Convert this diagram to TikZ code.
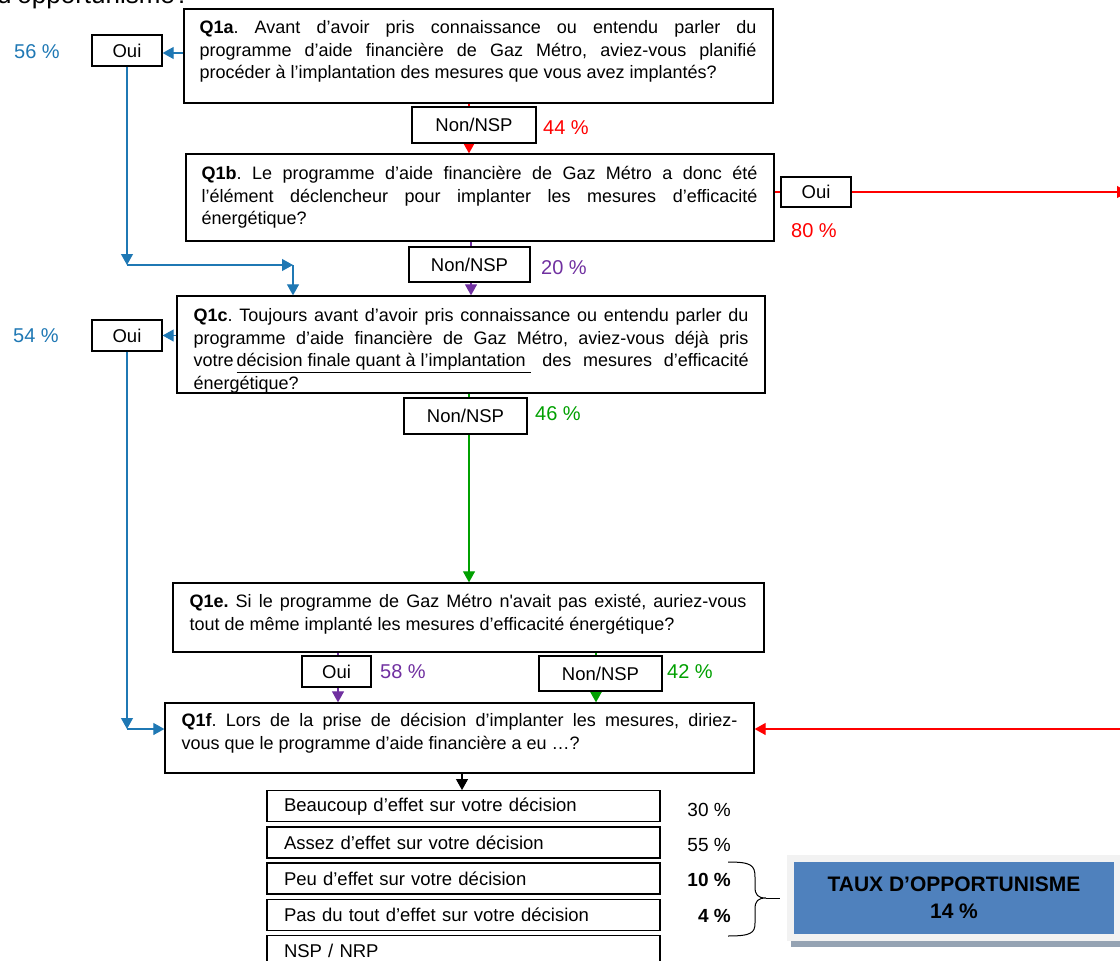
\documentclass[tikz,border=0pt]{standalone}
\usepackage{fontspec}
\setmainfont{Liberation Sans}
\usepackage{xcolor}
\usetikzlibrary{arrows.meta, backgrounds}

\definecolor{qblue}{RGB}{31,120,180}
\definecolor{qred}{RGB}{255,0,0}
\definecolor{qpurple}{RGB}{112,48,160}
\definecolor{qgreen}{RGB}{0,160,0}
\definecolor{taux}{RGB}{79,129,189}
\definecolor{tauxshadow}{RGB}{149,163,179}
\definecolor{tauxback}{RGB}{242,242,242}

\frenchspacing

\begin{document}
\begin{tikzpicture}[x=1pt, y=-1pt,
    qbox/.style={draw, line width=1.3pt, inner sep=0pt},
    qtext/.style={anchor=north west, inner sep=0pt, align=justify, font=\fontsize{18}{22.5}\selectfont\frenchspacing},
    lbox/.style={draw, line width=1.3pt, fill=white, inner sep=0pt, font=\fontsize{18.5}{22}\selectfont},
    pct/.style={inner sep=0pt, font=\fontsize{20}{24}\selectfont},
    optbox/.style={draw, line width=1.3pt, minimum width=393pt, minimum height=31pt, inner xsep=17pt, inner ysep=0pt, text width=359pt, align=left, font=\fontsize{18.5}{21}\selectfont},
    optval/.style={anchor=east, inner sep=0pt, font=\fontsize{19}{22}\selectfont},
    flow/.style={line width=1.1pt, -{Triangle[length=11pt,width=12pt]}},
    link/.style={line width=1.1pt}]
        \useasboundingbox (0,0) rectangle (1120,961);
        %% title (cut by the top edge)
        \node[anchor=base west, inner sep=0pt, font=\fontsize{26}{30}\selectfont] (titre) at (-3,4) {d’opportunisme?};
        %% question boxes
        \node[qbox, minimum width=589pt, minimum height=94pt] (q1a) at (478.5,56) {};
        \node[qbox, minimum width=588pt, minimum height=87pt] (q1b) at (480,197.5) {};
        \node[qbox, minimum width=588pt, minimum height=97pt] (q1c) at (471,344.5) {};
        \node[qbox, minimum width=591pt, minimum height=69pt] (q1e) at (468.5,617.5) {};
        \node[qbox, minimum width=589pt, minimum height=70pt] (q1f) at (459.5,738) {};
        %% question texts
        \node[qtext, text width=557pt] (t1a) at ([xshift=16pt, yshift=-12pt]q1a.north west) {\textbf{Q1a}. Avant d’avoir pris connaissance ou entendu parler du\linebreak programme d’aide financière de Gaz Métro, aviez-vous planifié\linebreak procéder à l’implantation des mesures que vous avez implantés?};
        \node[qtext, text width=556pt] (t1b) at ([xshift=16pt, yshift=-13pt]q1b.north west) {\textbf{Q1b}. Le programme d’aide financière de Gaz Métro a donc été\linebreak l’élément déclencheur pour implanter les mesures d’efficacité\linebreak énergétique?};
        \node[qtext, text width=555pt] (t1c) at ([xshift=17pt, yshift=-13pt]q1c.north west) {\textbf{Q1c}. Toujours avant d’avoir pris connaissance ou entendu parler du\linebreak programme d’aide financière de Gaz Métro, aviez-vous déjà pris\linebreak votre\,\underline{décision finale quant à l’implantation\ } des mesures d’efficacité\linebreak énergétique?};
        \node[qtext, text width=557pt] (t1e) at ([xshift=17pt, yshift=-12pt]q1e.north west) {\textbf{Q1e.} Si le programme de Gaz Métro n\textquotesingle avait pas existé, auriez-vous\linebreak tout de même implanté les mesures d’efficacité énergétique?};
        \node[qtext, text width=556pt] (t1f) at ([xshift=17pt, yshift=-11pt]q1f.north west) {\textbf{Q1f}. Lors de la prise de décision d’implanter les mesures, diriez-\linebreak vous que le programme d’aide financière a eu …?};
        %% answer boxes
        \node[lbox, minimum width=70pt, minimum height=31pt] (oa) at (127,50.5) {Oui};
        \node[lbox, minimum width=124pt, minimum height=36pt] (na) at (474,125) {Non/NSP};
        \node[lbox, minimum width=70pt, minimum height=30pt] (ob) at (816,192) {Oui};
        \node[lbox, minimum width=121pt, minimum height=35pt] (nb) at (469.5,264.5) {Non/NSP};
        \node[lbox, minimum width=70pt, minimum height=31pt] (oc) at (127,335.5) {Oui};
        \node[lbox, minimum width=123pt, minimum height=36pt] (nc) at (465.5,416) {Non/NSP};
        \node[lbox, minimum width=69pt, minimum height=31pt] (oe) at (336.5,671.5) {Oui};
        \node[lbox, minimum width=123pt, minimum height=35pt] (ne) at (600.5,673.5) {Non/NSP};
        %% answer shares
        \node[pct, qblue] (p1a) at (37,52) {56 \%};
        \node[pct, qred] (p1an) at (566,127.5) {44 \%};
        \node[pct, qred] (p1bo) at (814,230.5) {80 \%};
        \node[pct, qpurple] (p1bn) at (564,267.5) {20 \%};
        \node[pct, qblue] (p1co) at (36,336) {54 \%};
        \node[pct, qgreen] (p1cn) at (558,414) {46 \%};
        \node[pct, qpurple] (p1eo) at (403,671.5) {58 \%};
        \node[pct, qgreen] (p1en) at (690,671.5) {42 \%};
        %% Q1f answers
        \foreach \opt/\val [count=\i] in {Beaucoup d’effet sur votre décision/30 \%, Assez d’effet sur votre décision/55 \%, Peu d’effet sur votre décision/\textbf{10 \%}, Pas du tout d’effet sur votre décision/\textbf{4 \%}, {NSP / NRP}/{}}
        {
            \node[optbox] (r\i) at (463.5,770+36.2*\i) {\opt};
            \node[optval] (v\i) at (731,774.8+35.2*\i) {\val};
        }
        %% brace and rate
        \coordinate (bt) at (728,862);
        \coordinate (bb) at (728,936);
        \coordinate (bm) at (766,898);
        \coordinate (bc) at (780,898);
        \draw[line width=1pt] (bt) .. controls (751,862) and (755,865) .. (755,877) -- (755,887) .. controls (755,895) and (758,898) .. (bm) .. controls (758,898) and (755,901) .. (755,909) -- (755,923) .. controls (755,933) and (751,936) .. (bb);
        \draw[line width=1pt] (bm) -- (bc);
        \fill[tauxback] (787,855) rectangle (1125,941);
        \fill[tauxshadow] (791,941) rectangle (1125,947);
        \node[fill=taux, minimum width=320pt, minimum height=72pt, inner sep=0pt, align=center, font=\bfseries\fontsize{21}{27}\selectfont] (taux) at (954,898) {TAUX D’OPPORTUNISME\\14 \%};
        %% edges behind the answer boxes
        \begin{scope}[on background layer]
            \draw[flow, qred] ([xshift=-5pt]na.center |- q1a.south) -- ([xshift=-5pt]na.center |- q1b.north);
            \draw[flow, qpurple] ([xshift=1.5pt]nb.center |- q1b.south) -- ([xshift=1.5pt]nb.center |- q1c.north);
            \draw[flow, qgreen] ([xshift=3.5pt]nc.center |- q1c.south) -- ([xshift=3.5pt]nc.center |- q1e.north);
            \draw[flow, qpurple] ([xshift=1.5pt]oe.center |- q1e.south) -- ([xshift=1.5pt]oe.center |- q1f.north);
            \draw[flow, qgreen] ([xshift=-4.5pt]ne.center |- q1e.south) -- ([xshift=-4.5pt]ne.center |- q1f.north);
        \end{scope}
        %% other edges
        \coordinate (ka) at (127,265);
        \coordinate (kb) at (293,265);
        \coordinate (kc) at (127,729);
        \coordinate (ra) at (1128,192);
        \coordinate (rb) at (1126,729);
        \draw[flow, qblue] ([yshift=-2.5pt]q1a.west |- oa.east) -- ([yshift=-2.5pt]oa.east);
        \draw[flow, qblue] (oa.south) -- (ka);
        \draw[flow, qblue] (ka) -- (kb);
        \draw[flow, qblue] (kb) -- (kb |- q1c.north);
        \draw[flow, qblue] (q1c.west |- oc.east) -- (oc.east);
        \draw[flow, qblue] (oc.south) -- (kc);
        \draw[flow, qblue] (kc) -- (kc -| q1f.west);
        \draw[link, qred] (q1b.east |- ob.west) -- (ob.west);
        \draw[flow, qred] (ob.east) -- (ra);
        \draw[flow, qred] (rb) -- (rb -| q1f.east);
        \draw[flow] ([xshift=-1.5pt]r1.north |- q1f.south) -- ([xshift=-1.5pt]r1.north);
    \end{tikzpicture}
\end{document}
